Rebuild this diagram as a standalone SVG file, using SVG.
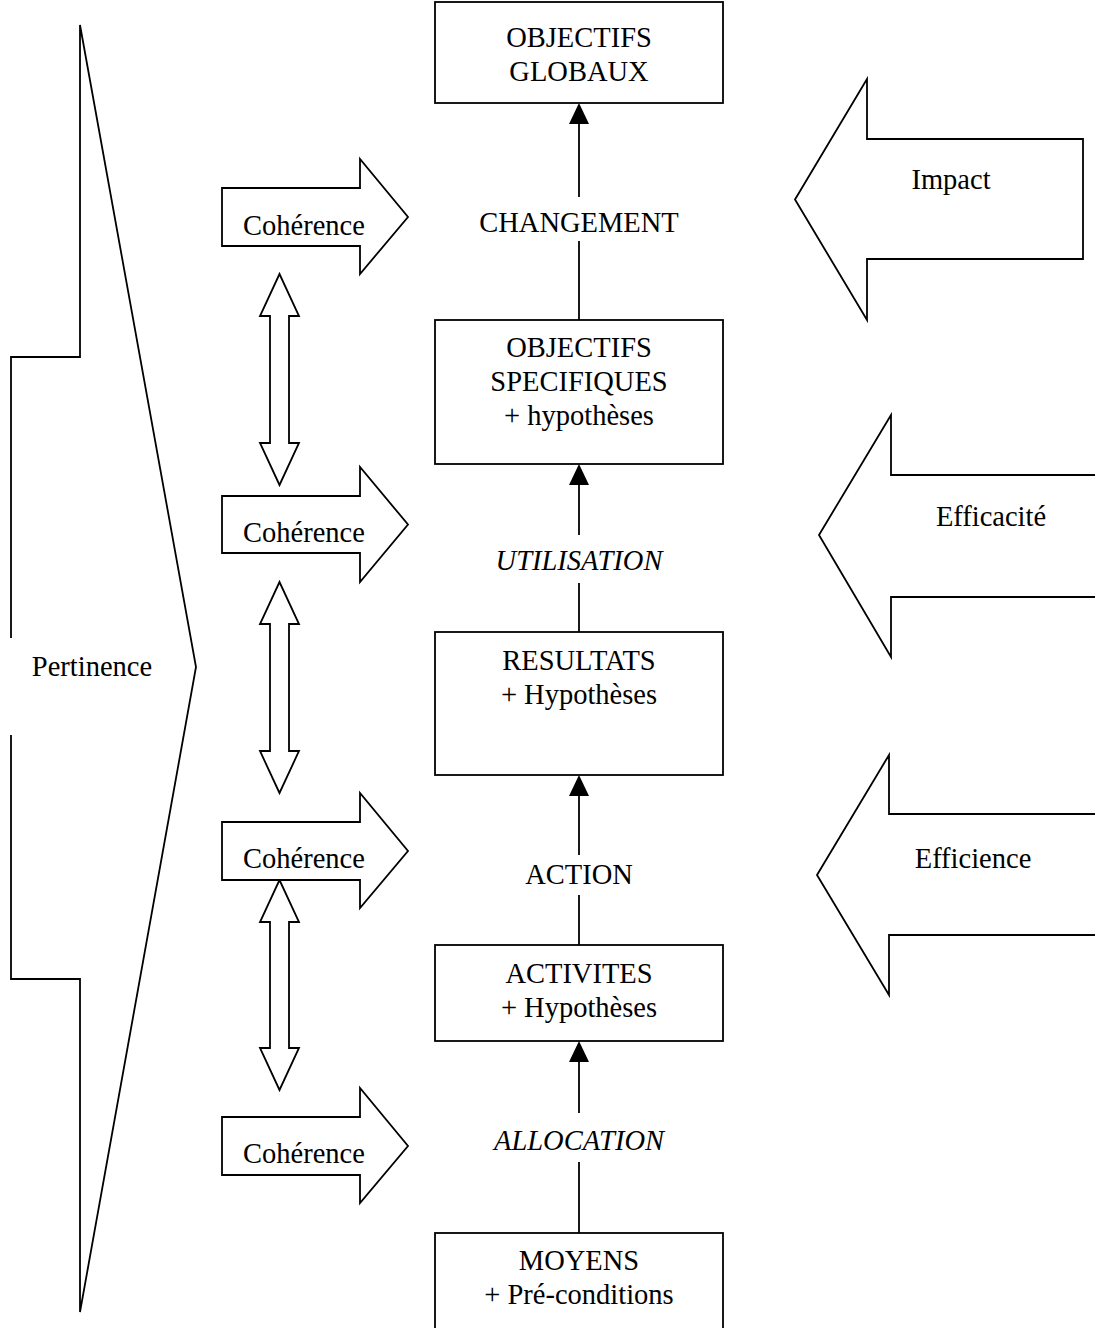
<svg xmlns="http://www.w3.org/2000/svg" width="1095" height="1328" viewBox="0 0 1095 1328">
<style>
.sh{fill:#fff;stroke:#000;stroke-width:1.8;stroke-linejoin:miter}
.bx{fill:#fff;stroke:#000;stroke-width:1.8}
.ln{stroke:#000;stroke-width:1.8;fill:none}
.ah{fill:#000;stroke:none}
text{font-family:"Liberation Serif","Times New Roman",serif;font-size:28.5px;fill:#000;text-anchor:middle}
.it{font-style:italic}
</style>
<rect width="1095" height="1328" fill="#fff"/>

<g id="pertinence">
<polygon class="sh" points="80,25 196,667 80,1312 80,979 11,979 11,357 80,357"/>
<rect x="8" y="638" width="160" height="97" fill="#fff"/>
<text x="92" y="676">Pertinence</text>
</g>

<g id="double1">
<polygon class="sh" points="279.5,274 299,316 289,316 289,443 299,443 279.5,485 260,443 270,443 270,316 260,316"/>
</g>
<g id="double2">
<polygon class="sh" points="279.5,582 299,624 289,624 289,751 299,751 279.5,793 260,751 270,751 270,624 260,624"/>
</g>
<g id="double3">
<polygon class="sh" points="279.5,880 299,922 289,922 289,1048 299,1048 279.5,1090 260,1048 270,1048 270,922 260,922"/>
</g>

<g id="coherence1">
<polygon class="sh" points="222,188 360,188 360,159 408,217 360,274 360,246 222,246"/>
<text x="304" y="235">Cohérence</text>
</g>
<g id="coherence2">
<polygon class="sh" points="222,496 360,496 360,467 408,524.5 360,582 360,553 222,553"/>
<text x="304" y="542">Cohérence</text>
</g>
<g id="coherence3">
<polygon class="sh" points="222,822 360,822 360,793 408,851 360,908 360,880 222,880"/>
<text x="304" y="868">Cohérence</text>
</g>
<g id="coherence4">
<polygon class="sh" points="222,1117 360,1117 360,1088 408,1146 360,1203 360,1175 222,1175"/>
<text x="304" y="1163">Cohérence</text>
</g>

<g id="impact">
<polygon class="sh" points="795,199.5 867,79 867,139 1083,139 1083,259 867,259 867,320"/>
<text x="951" y="189">Impact</text>
</g>
<g id="efficacite">
<polygon class="sh" points="819,535 891,415 891,475 1100,475 1100,597 891,597 891,657"/>
<text x="991" y="526">Efficacité</text>
</g>
<g id="efficience">
<polygon class="sh" points="817,875 889,755 889,814 1100,814 1100,935 889,935 889,995"/>
<text x="973" y="868">Efficience</text>
</g>

<g id="objectifs-globaux">
<rect class="bx" x="435" y="2" width="288" height="101"/>
<text x="579" y="47">OBJECTIFS</text>
<text x="579" y="81">GLOBAUX</text>
</g>
<g id="objectifs-specifiques">
<rect class="bx" x="435" y="320" width="288" height="144"/>
<text x="579" y="357">OBJECTIFS</text>
<text x="579" y="391">SPECIFIQUES</text>
<text x="579" y="425">+ hypothèses</text>
</g>
<g id="resultats">
<rect class="bx" x="435" y="632" width="288" height="143"/>
<text x="579" y="670">RESULTATS</text>
<text x="579" y="704">+ Hypothèses</text>
</g>
<g id="activites">
<rect class="bx" x="435" y="945" width="288" height="96"/>
<text x="579" y="983">ACTIVITES</text>
<text x="579" y="1017">+ Hypothèses</text>
</g>
<g id="moyens">
<rect class="bx" x="435" y="1233" width="288" height="110"/>
<text x="579" y="1270">MOYENS</text>
<text x="579" y="1304">+ Pré-conditions</text>
</g>

<g id="connectors">
<line class="ln" x1="579" y1="122" x2="579" y2="197"/>
<line class="ln" x1="579" y1="241" x2="579" y2="320"/>
<polygon class="ah" points="579,103 569,124 589,124"/>
<text x="579" y="232">CHANGEMENT</text>

<line class="ln" x1="579" y1="483" x2="579" y2="535"/>
<line class="ln" x1="579" y1="583" x2="579" y2="632"/>
<polygon class="ah" points="579,464 569,485 589,485"/>
<text class="it" x="579" y="570">UTILISATION</text>

<line class="ln" x1="579" y1="794" x2="579" y2="855"/>
<line class="ln" x1="579" y1="895" x2="579" y2="945"/>
<polygon class="ah" points="579,775 569,796 589,796"/>
<text x="579" y="884">ACTION</text>

<line class="ln" x1="579" y1="1060" x2="579" y2="1113"/>
<line class="ln" x1="579" y1="1162" x2="579" y2="1233"/>
<polygon class="ah" points="579,1041 569,1062 589,1062"/>
<text class="it" x="579" y="1150">ALLOCATION</text>
</g>
</svg>
